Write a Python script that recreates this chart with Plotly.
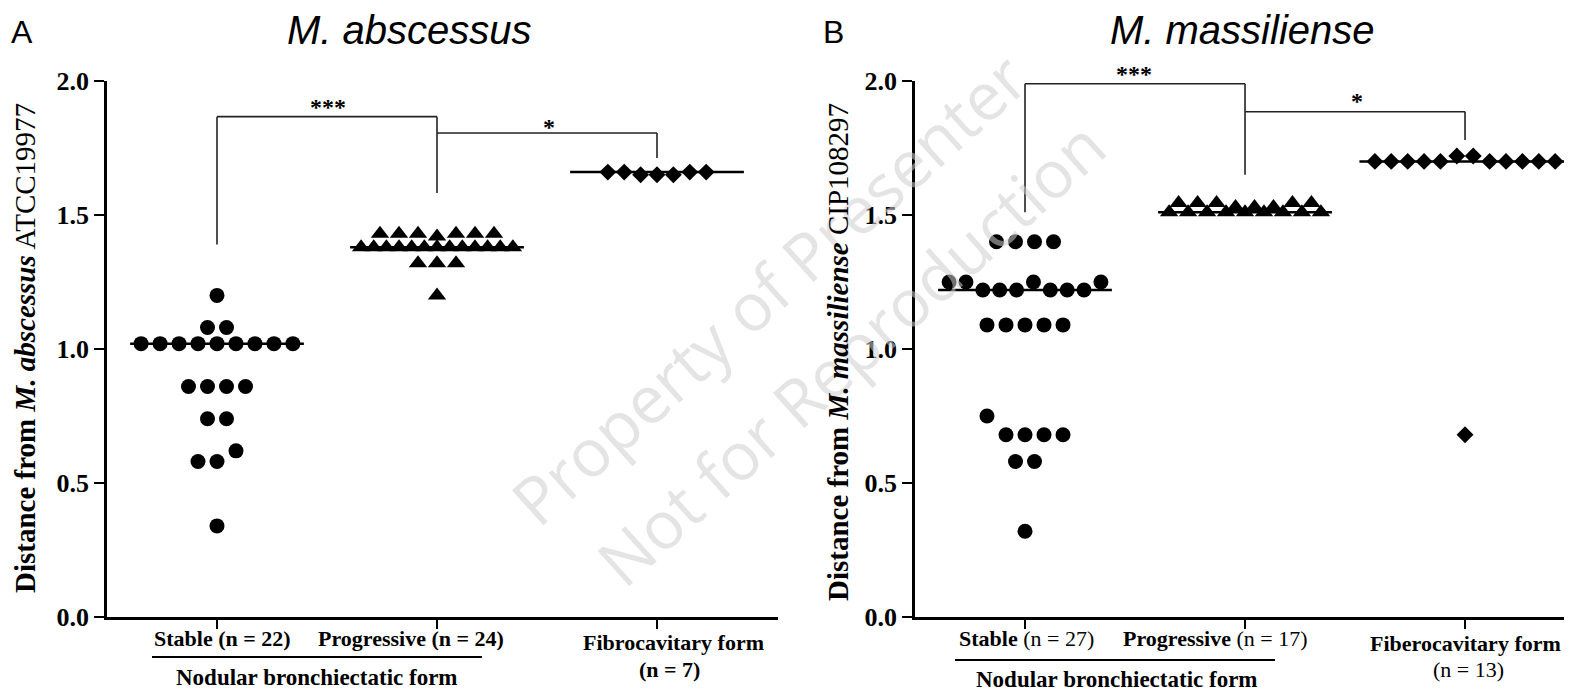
import numpy as np
import plotly.graph_objects as go

# ---------------- data ----------------
categories = ["Stable", "Progressive", "Fibrocavitary"]

a_stable = [1.20, 1.08, 1.08,
            1.02, 1.02, 1.02, 1.02, 1.02, 1.02, 1.02, 1.02, 1.02,
            0.86, 0.86, 0.86, 0.86, 0.74, 0.74, 0.58, 0.58, 0.62, 0.34]
a_progressive = [1.43, 1.43, 1.43, 1.42, 1.43, 1.43, 1.43,
                 1.38, 1.38, 1.38, 1.38, 1.38, 1.38, 1.38, 1.38, 1.38, 1.38, 1.38, 1.38, 1.38,
                 1.32, 1.32, 1.32, 1.20]
a_fibro = [1.66, 1.66, 1.65, 1.65, 1.65, 1.66, 1.66]

b_stable = [1.40, 1.40, 1.40, 1.40,
            1.25, 1.25, 1.22, 1.22, 1.22, 1.25, 1.22, 1.22, 1.22, 1.25,
            1.09, 1.09, 1.09, 1.09, 1.09,
            0.75, 0.68, 0.68, 0.68, 0.68, 0.58, 0.58, 0.32]
b_progressive = [1.51, 1.545, 1.51, 1.545, 1.51, 1.545, 1.51, 1.53, 1.51, 1.53,
                 1.51, 1.53, 1.51, 1.545, 1.51, 1.545, 1.51]
b_fibro = [1.70, 1.70, 1.70, 1.70, 1.70, 1.72, 1.72, 1.70, 1.70, 1.70, 1.70, 1.70, 0.68]

y_ticks = [0.0, 0.5, 1.0, 1.5, 2.0]
y_tick_text = ["0.0", "0.5", "1.0", "1.5", "2.0"]

# ---------------- helpers ----------------
W, H = 1572, 690
OFF = 8  # default page body margin in the browser


def px(x):
    return (x - OFF) / W


def py(y):
    return 1 - (y - OFF) / H


def swarm(vals, center, step, maxw, tol):
    """Simple grouped beeswarm: consecutive near-equal values are spread symmetrically."""
    xs = []
    groups = []
    cur = []
    for v in vals:
        if cur and abs(v - cur[0]) > tol:
            groups.append(cur)
            cur = []
        cur.append(v)
    if cur:
        groups.append(cur)
    for g in groups:
        n = len(g)
        s = step if n == 1 else min(step, maxw / (n - 1))
        for i in range(n):
            xs.append(center + (i - (n - 1) / 2) * s)
    return xs


fig = go.Figure()

panels = [
    dict(xa="x", ya="y", data=[a_stable, a_progressive, a_fibro], tol=0.045,
         maxw=[0.69, 0.69, 0.69]),
    dict(xa="x2", ya="y2", data=[b_stable, b_progressive, b_fibro], tol=0.075,
         maxw=[0.69, 0.69, 0.88]),
]
symbols = ["circle", "triangle-up", "diamond"]
sizes = [15, 16, 13]
steps = [0.0864, 0.0864, 0.0745]

shapes = []
for p in panels:
    for ci, vals in enumerate(p["data"]):
        c = ci + 1
        xs = swarm(vals, c, steps[ci], p["maxw"][ci], p["tol"])
        fig.add_trace(go.Scatter(
            x=xs, y=vals, mode="markers", xaxis=p["xa"], yaxis=p["ya"],
            marker=dict(symbol=symbols[ci], size=sizes[ci], color="black",
                        line=dict(width=0)),
            showlegend=False, hoverinfo="y"))
        med = float(np.median(vals))
        hw = 0.395 if not (p["xa"] == "x2" and ci == 2) else 0.48
        shapes.append(dict(type="line", xref=p["xa"], yref=p["ya"],
                           x0=c - hw, x1=c + hw, y0=med, y1=med,
                           line=dict(color="black", width=2.5), layer="below"))

# significance brackets
br = "#222222"


def bracket(xa, ya, pts):
    for (x0, y0, x1, y1) in pts:
        shapes.append(dict(type="line", xref=xa, yref=ya, x0=x0, y0=y0, x1=x1, y1=y1,
                           line=dict(color=br, width=1.6)))


bracket("x", "y", [(1, 1.39, 1, 1.867), (1, 1.867, 2, 1.867), (2, 1.867, 2, 1.582),
                   (2, 1.806, 3, 1.806), (3, 1.806, 3, 1.713)])
bracket("x2", "y2", [(1, 1.51, 1, 1.99), (1, 1.99, 2, 1.99), (2, 1.99, 2, 1.65),
                     (2, 1.885, 3, 1.885), (3, 1.885, 3, 1.78)])

# nodular underline
shapes.append(dict(type="line", xref="paper", yref="paper", x0=px(152), x1=px(482),
                   y0=py(657), y1=py(657), line=dict(color="black", width=2)))
shapes.append(dict(type="line", xref="paper", yref="paper", x0=px(955), x1=px(1275),
                   y0=py(660), y1=py(660), line=dict(color="black", width=2)))

serif = "Liberation Serif"
sans = "Liberation Sans"

ann = []


def text(x, y, t, size, family=serif, color="black", angle=0, xanchor="center"):
    ann.append(dict(x=px(x), y=py(y), xref="paper", yref="paper", text=t,
                    showarrow=False, xanchor=xanchor, yanchor="middle",
                    textangle=angle, font=dict(family=family, size=size, color=color)))


# watermark
wm = "rgba(205,205,205,0.55)"
text(768, 288, "Property of Presenter", 66, family="Open Sans", color=wm, angle=-42)
text(850, 352, "Not for Reproduction", 66, family="Open Sans", color=wm, angle=-42)

# panel letters and titles
text(22, 32, "A", 32, family=sans)
text(410, 30, "<i>M. abscessus</i>", 40, family=sans)
text(833, 32, "B", 32, family=sans)
text(1242, 30, "<i>M. massiliense</i>", 40, family=sans)

# y titles
text(25, 348, "<b>Distance from <i>M. abscessus</i></b> ATCC19977", 29, angle=-90)
text(838, 352, "<b>Distance from <i>M. massiliense</i></b> CIP108297", 29, angle=-90)

# stars
text(328, 107, "<b>***</b>", 24)
text(549, 127, "<b>*</b>", 24)
text(1134, 74, "<b>***</b>", 24)
text(1357, 101, "<b>*</b>", 24)

# x category labels panel A
text(222, 638, "<b>Stable (n = 22)</b>", 22)
text(411, 638, "<b>Progressive (n = 24)</b>", 22)
text(673, 642, "<b>Fibrocavitary form</b>", 22)
text(669, 669, "<b>(n = 7)</b>", 22)
text(317, 677, "<b>Nodular bronchiectatic form</b>", 23)

# x category labels panel B
text(1026, 638, "<b>Stable</b> (n = 27)", 22)
text(1215, 638, "<b>Progressive</b> (n = 17)", 22)
text(1465, 643, "<b>Fiberocavitary form</b>", 22)
text(1468, 669, "(n = 13)", 22)
text(1117, 679, "<b>Nodular bronchiectatic form</b>", 23)

axis_common = dict(showgrid=False, zeroline=False, showline=True, linecolor="black",
                   linewidth=2.5, ticks="outside", tickcolor="black", tickwidth=2)
ydom = [py(617), py(81)]

fig.update_layout(
    width=W, height=H, margin=dict(l=0, r=0, t=0, b=0, autoexpand=False),
    paper_bgcolor="white", plot_bgcolor="rgba(0,0,0,0)",
    xaxis=dict(domain=[px(107), px(778)], range=[0.5, 3.55], tickvals=[1, 2, 3],
               showticklabels=False, ticklen=9, anchor="y", **axis_common),
    yaxis=dict(domain=ydom, range=[0, 2], tickvals=y_ticks, ticktext=y_tick_text,
               ticklen=10, anchor="x",
               tickfont=dict(family=serif, size=26, color="black", weight="bold"),
               **axis_common),
    xaxis2=dict(domain=[px(915), px(1568)], range=[0.5, 3.468], tickvals=[1, 2, 3],
                showticklabels=False, ticklen=9, anchor="y2", **axis_common),
    yaxis2=dict(domain=ydom, range=[0, 2], tickvals=y_ticks, ticktext=y_tick_text,
                ticklen=10, anchor="x2",
                tickfont=dict(family=serif, size=26, color="black", weight="bold"),
                **axis_common),
    shapes=shapes, annotations=ann,
)

fig.write_html("out.html")
